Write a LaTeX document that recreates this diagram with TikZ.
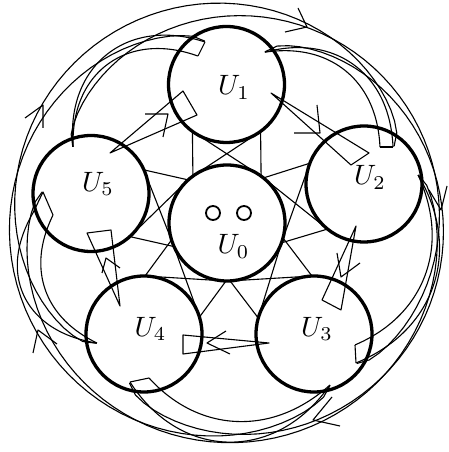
\documentclass[tikz,border=0pt]{standalone}
\usepackage{graphicx}
\usetikzlibrary{calc}
\begin{document}
\begin{tikzpicture}[x=1pt,y=1pt,
  ucirc/.style={circle, draw, line width=3.3pt, minimum size=116pt, inner sep=0pt, outer sep=0pt},
  edge/.style={line width=1.1pt, line join=round},
  lab/.style={inner sep=0pt},
  dot/.style={circle, draw, line width=1.8pt, minimum size=14pt, inner sep=0pt}]
\useasboundingbox (0,0) rectangle (449,452);
\newcommand{\pcurve}[6]{%
  \draw[edge, shift={(227,229)}] plot[domain=0:1, samples=61, variable=\t]
   ({#1+(#3-#1)*\t}:{#2+(#4-#2)*\t+#5*pow(abs(sin(180*\t))+0.0001,#6)});}
\newcommand{\ulab}[1]{\scalebox{2.8}{$U_{#1}$}}
% circles
\node[ucirc] (U0) at (227,229) {};
\node[ucirc] (U1) at (226.5,367.5) {};
\node[ucirc] (U2) at (364,268) {};
\node[ucirc] (U3) at (314,118) {};
\node[ucirc] (U4) at (144,118) {};
\node[ucirc] (U5) at (91,258.5) {};
\node[lab] (L1) at (234,364.5) {\ulab{1}};
\node[lab] (L2) at (370,274.5) {\ulab{2}};
\node[lab] (L3) at (317,123) {\ulab{3}};
\node[lab] (L4) at (150.5,123) {\ulab{4}};
\node[lab] (L5) at (98,268) {\ulab{5}};
\node[lab] (L0) at (233.5,205.5) {\ulab{0}};
\node[dot] (d1) at (213,239) {};
\node[dot] (d2) at (244,239) {};
% inner pattern
\foreach \i/\t in {1/90.2, 2/15.9, 3/-51.9, 4/233.2, 5/168.0} {
  \pgfmathsetmacro\aa{\t+216}\pgfmathsetmacro\bb{\t+144}
  \pgfmathsetmacro\cc{\t-36}\pgfmathsetmacro\dd{\t+36}
  \draw[edge] (U\i.\aa) -- (U0.\cc) -- (U\i.\bb) -- (U0.\dd) -- cycle;
}
% straight wedges and barbs
\draw[edge] (110,299) -- (183,361) -- (197,337) -- cycle;
\draw[edge] (145,338) -- (168,338) -- (163,315);
\draw[edge] (271,359) -- (369,299) -- (351,287) -- cycle;
\draw[edge] (294,319) -- (320,319) -- (317,347);
\draw[edge] (356,226) -- (322,152) -- (341,142) -- cycle;
\draw[edge] (337,199) -- (341,175) -- (360,189);
\draw[edge] (269,109) -- (183,117) -- (183,98) -- cycle;
\draw[edge] (226,121) -- (207,109) -- (230,98);
\draw[edge] (120,146) -- (87,219) -- (111,222) -- cycle;
\draw[edge] (102,179) -- (106,194) -- (120,184);
% outer wedges
\pcurve{153.7}{171.7}{96.9}{182.3}{30}{1}
\pcurve{153.7}{171.7}{99.9}{169.5}{28}{1}
\draw[edge] (205,410) -- (198,396);
\pcurve{77.5}{175}{24.6}{182.6}{24}{1}
\pcurve{77.5}{175}{26.4}{170.8}{20}{1}
\draw[edge] (393,305) -- (380,305);
\pcurve{14.1}{197}{-47.3}{190.4}{22}{1}
\pcurve{14.1}{197}{-43.6}{176.8}{18}{1}
\draw[edge] (356,89) -- (355,107);
\pcurve{-57.6}{192}{-121.4}{186.3}{30}{1}
\pcurve{-57.6}{192}{-116.7}{173.5}{16}{1}
\draw[edge] (130,70) -- (149,74);
\pcurve{-137.3}{177}{-183}{194.3}{30}{1}
\pcurve{-137.3}{177}{-182.6}{174.2}{18}{1}
\draw[edge] (33,239) -- (43,260) -- (53,237);
% long arcs
\pcurve{77.5}{175}{-121.4}{186.3}{38}{0.5}
\pcurve{14.1}{197}{-189.6}{186.6}{28}{0.5}
\pcurve{-57.6}{192}{-263.1}{182.3}{32}{0.5}
\pcurve{-137.3}{177}{-335.4}{182.6}{42}{0.5}
\pcurve{153.7}{171.7}{-47.3}{190.4}{32}{0.5}
% outer barbs
\draw[edge] (285,420) -- (307,425) -- (298,444);
\draw[edge] (25,334) -- (43,347) -- (43,324);
\draw[edge] (33,99) -- (38,122) -- (57,108);
\draw[edge] (332,55) -- (313,32) -- (340,26);
\draw[edge] (429,262) -- (441,242) -- (447,266);
\end{tikzpicture}
\end{document}
